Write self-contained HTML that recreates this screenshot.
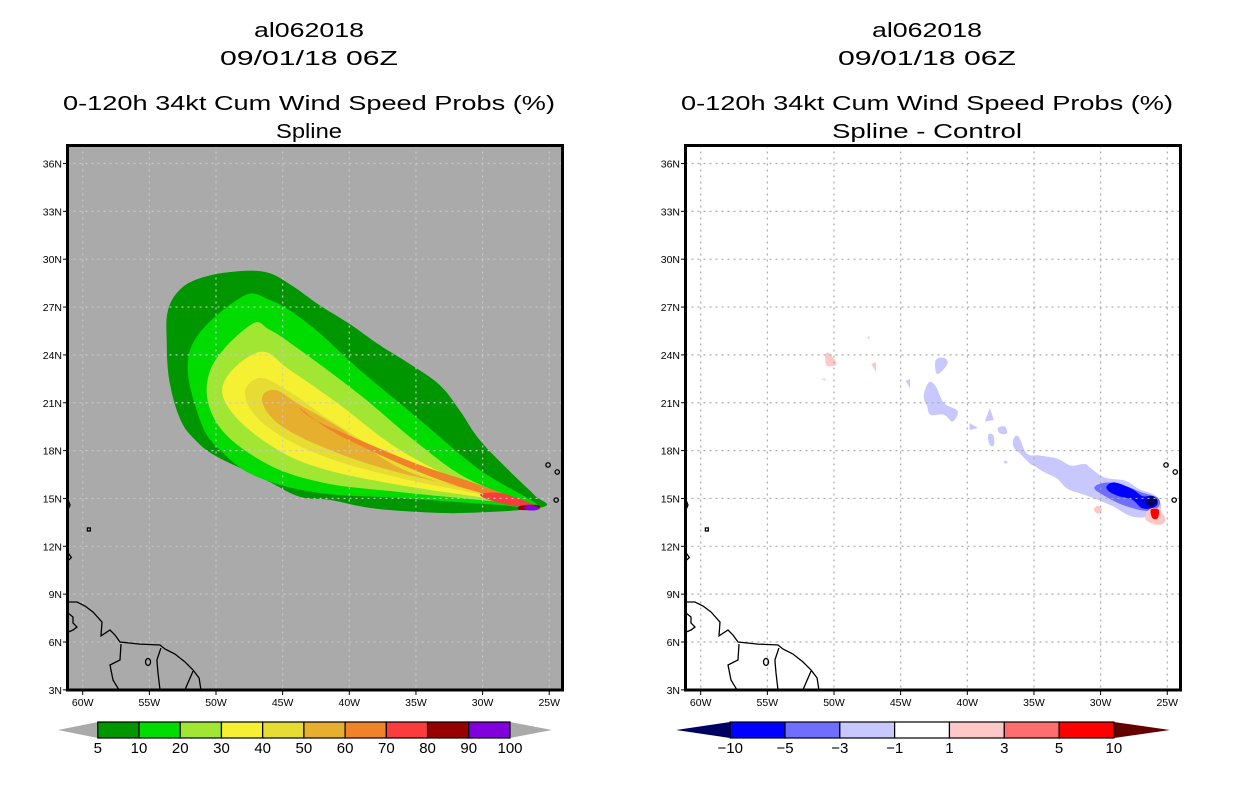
<!DOCTYPE html>
<html><head><meta charset="utf-8">
<style>
html,body{margin:0;padding:0;background:#fff;}
svg{display:block;font-family:"Liberation Sans",sans-serif;}
</style></head>
<body>
<svg id="chart" xmlns="http://www.w3.org/2000/svg" width="1236" height="800" viewBox="0 0 1236 800">
<defs>
<clipPath id="clipL"><rect x="67.5" y="145.5" width="495" height="544.5"/></clipPath>
<clipPath id="clipR"><rect x="685.5" y="145.5" width="495" height="544.5"/></clipPath>
</defs>
<g id="titles"></g>
<g id="panelL"></g>
<g id="panelR"></g>
<g id="cbars"></g>
</svg>
<script>
// ---- Axis data ----
const lonTicks = [-60,-55,-50,-45,-40,-35,-30,-25];
const lonLabels = ["60W","55W","50W","45W","40W","35W","30W","25W"];
const latTicks = [3,6,9,12,15,18,21,24,27,30,33,36];
const latLabels = ["3N","6N","9N","12N","15N","18N","21N","24N","27N","30N","33N","36N"];

// ---- Left panel: cumulative probability contours (lon/lat) ----
const leftLevels = [5,10,20,30,40,50,60,70,80,90,100];
const leftColors = ["#009600","#00dc00","#a0e632","#f5f032","#e6dc32","#e6af2d","#f08228","#fa3c3c","#960000","#8200dc"];
const c5Lon = [-25.5,-30.9,-34.7,-38.4,-41.4,-43.7,-45.9,-47.4,-50.1,-51.6,-52.7,-53.5,-53.7,-53.6,-52.7,-51.2,-48.9,-46.3,-44.4,-42.2,-39.9,-37.7,-35.4,-33.2,-31.7,-30.2,-27.9,-26.1];
const c5Lat = [14.46,14.1,14.15,14.4,14.9,15.1,16.0,16.6,17.7,18.7,20.0,22.4,24.9,26.8,28.1,28.8,29.2,29.2,28.4,27.1,25.9,24.6,23.4,22.1,20.5,18.65,16.65,15.2];
const c10Lon = [-48.2,-51.95,-51.2,-49.32,-46.7,-42.2,-36.2,-28.7,-25.69,-30.2,-34.7,-39.2,-42.95,-45.95];
const c10Lat = [27.57,24.31,19.92,17.73,16.28,15.34,15.03,14.59,14.46,16.79,19.92,23.05,25.87,27.44];
const c20Lon = [-47.43,-50.43,-50.08,-46.7,-42.2,-36.2,-28.7,-25.84,-30.94,-34.7,-39.2,-43.7,-45.95];
const c20Lat = [25.87,23.05,19.92,17.41,16.03,15.4,14.78,14.46,16.16,18.35,21.49,24.31,25.56];
const c30Lon = [-46.7,-49.32,-48.95,-45.95,-42.2,-36.2,-28.7,-25.99,-30.94,-36.2,-40.7,-44.45];
const c30Lat = [24.18,22.43,20.55,18.35,16.91,15.84,14.9,14.46,15.84,18.04,20.86,23.05];
const c40Lon = [-46.7,-47.82,-46.32,-42.2,-36.2,-28.7,-25.91,-30.94,-36.2,-41.44,-44.45];
const c40Lat = [22.55,21.49,19.61,17.73,16.28,15.03,14.46,15.66,17.29,19.92,21.67];
const c50Lon = [-45.57,-46.55,-45.2,-41.44,-36.2,-28.7,-26.06,-30.94,-36.2,-40.7,-43.7];
const c50Lat = [21.8,21.17,19.61,18.04,16.6,15.22,14.46,15.53,16.91,19.42,20.86];
const c60Lon = [-43.7,-42.58,-39.2,-34.7,-30.2,-26.44,-28.7,-33.2,-37.7,-41.44];
const c60Lat = [20.67,19.92,18.66,17.1,15.84,14.59,15.03,16.16,17.73,19.29];
const c70Lon = [-30.2,-28.7,-26.44,-26.06,-28.7];
const c70Lat = [15.22,15.34,14.71,14.4,14.71];
const c80Lon = [-27.18,-25.9,-25.84,-27.18];
const c80Lat = [14.53,14.59,14.34,14.28];
const c90Lon = [-26.74,-25.97,-25.9,-26.74];
const c90Lat = [14.59,14.53,14.28,14.28];

// ---- Right panel: difference contours (lon/lat) ----
const rightLevels = [-10,-5,-3,-1,1,3,5,10];
const rightColors = ["#000064","#0000ff","#6e6eff","#c8c8ff","#ffffff","#ffc8c8","#ff6e6e","#ff0000","#640000"];
const dStreakLon = [-36.53,-36.15,-35.52,-34.62,-33.23,-32.22,-31.19,-30.68,-29.67,-28.14,-27.12,-25.84,-25.47,-26.11,-27.64,-29.14,-30.94,-32.45,-33.23,-34.25,-35.0,-35.26,-36.05,-36.53];
const dStreakLat = [18.76,18.87,17.81,17.7,17.49,17.06,17.16,16.85,16.31,16.11,15.59,15.15,14.4,13.91,13.87,14.53,15.15,15.59,16.22,16.66,17.06,17.16,17.81,18.23];
const dP1Lon = [-42.38,-41.75,-41.49,-42.25]; const dP1Lat = [23.65,23.82,23.43,22.8];
const dP2Lon = [-43.27,-42.89,-42.38,-41.75,-40.73,-41.11,-41.75,-42.76,-43.02];
const dP2Lat = [21.42,22.27,22.05,20.98,20.48,19.82,20.25,20.25,20.8];
const dP3Lon = [-38.69,-38.31,-38.0]; const dP3Lat = [19.82,20.67,19.92];
const dP4Lon = [-39.83,-39.2,-39.83]; const dP4Lat = [19.73,19.42,19.29];
const dP5Lon = [-38.45,-38.06,-38.0,-38.31]; const dP5Lat = [18.98,18.98,18.35,18.35];
const dP6Lon = [-37.7,-37.17,-37.04,-37.55]; const dP6Lat = [19.42,19.5,19.08,19.08];
const dP7Lon = [-44.61,-44.3,-44.3]; const dP7Lat = [22.38,22.49,21.92];
const dP8Lon = [-37.29,-36.91,-37.17]; const dP8Lat = [17.38,17.29,17.16];
const dMedLon = [-30.47,-29.53,-28.14,-26.86,-25.72,-25.62,-26.37,-28.14,-29.67];
const dMedLat = [15.68,16.0,15.78,15.36,15.04,14.53,14.21,14.53,15.15];
const dBlueLon = [-29.53,-28.92,-27.64,-26.86,-26.11,-25.72,-26.11,-26.9,-27.64,-28.65,-29.41];
const dBlueLat = [15.78,16.0,15.59,15.15,15.15,14.71,14.4,14.4,14.93,15.15,15.47];
const dNavyLon = [-26.61,-26.11,-25.72,-26.11,-26.48];
const dNavyLat = [14.93,15.15,14.84,14.53,14.55];
const dPinkLon = [-26.37,-25.62,-25.14,-25.62,-26.61];
const dPinkLat = [14.3,14.34,13.66,13.34,13.66];
const dRedLon = [-26.23,-25.65,-25.72,-26.11]; const dRedLat = [14.3,14.3,13.77,13.77];
const dPk1Lon = [-50.65,-50.39,-49.8,-50.53]; const dPk1Lat = [23.97,24.12,23.43,23.33];
const dPk2Lon = [-47.22,-46.85,-46.85]; const dPk2Lat = [23.43,23.55,22.93];
const dPk3Lon = [-47.5,-47.3,-47.4]; const dPk3Lat = [25.2,25.1,24.95];
const dPk4Lon = [-30.5,-30.2,-29.9,-30.2]; const dPk4Lat = [14.3,14.55,14.3,14.05];
const dPk5Lon = [-51.0,-50.6,-50.7]; const dPk5Lat = [22.5,22.5,22.38];

// ---- Coastlines (lon/lat) ----
const coastLon = [-61.1,-60.43,-59.83,-59.23,-58.55,-58.63,-57.95,-57.58,-57.2,-55.7,-54.2,-53.83,-53.08,-52.33,-51.72,-51.27,-51.13];
const coastLat = [8.51,8.51,8.26,7.88,7.25,6.38,6.75,6.44,6.0,5.87,5.81,5.56,5.25,4.75,4.24,3.74,3.0];
const b1Lon = [-57.13,-57.2,-57.95,-57.73,-57.28]; const b1Lat = [5.87,4.87,4.56,3.62,3.0];
const b2Lon = [-54.13,-54.43,-54.35,-54.2]; const b2Lat = [5.62,4.87,4.06,3.0];
const b3Lon = [-51.72,-52.33]; const b3Lat = [4.18,3.0];
const venLon = [-61.1,-60.73,-60.73,-60.43,-60.73,-61.1]; const venLat = [7.82,7.57,7.19,6.94,6.75,6.62];
const islLon = [-61.1,-60.95,-61.1]; const islLat = [14.9,14.59,14.3];
const isl2Lon = [-61.1,-60.85,-61.1]; const isl2Lat = [11.6,11.3,11.1];
const cvLon = [-25.09,-24.4,-24.48]; const cvLat = [17.1,16.66,14.9];

const NS = "http://www.w3.org/2000/svg";
function mk(tag, attrs, parent){ const e=document.createElementNS(NS,tag); for(const k in attrs) e.setAttribute(k,attrs[k]); parent.appendChild(e); return e; }
function xs(lon, ox){ return 82.7 + ox + (lon+60)*13.33; }
function ys(lat){ return 163.5 + (36-lat)*15.95; }
function pts(lons,lats,ox){ return lons.map((l,i)=>xs(l,ox).toFixed(1)+","+ys(lats[i]).toFixed(1)).join(" "); }
// closed Catmull-Rom smoothed path
function smoothPath(lons,lats,ox){
  const P = lons.map((l,i)=>[xs(l,ox),ys(lats[i])]);
  const n = P.length;
  if(n<4) return 'M'+P.map(p=>p[0].toFixed(1)+','+p[1].toFixed(1)).join('L')+'Z';
  let d = 'M'+P[0][0].toFixed(1)+','+P[0][1].toFixed(1);
  const t = 0.18;
  for(let i=0;i<n;i++){
    const p0=P[(i-1+n)%n],p1=P[i],p2=P[(i+1)%n],p3=P[(i+2)%n];
    const c1=[p1[0]+(p2[0]-p0[0])*t,p1[1]+(p2[1]-p0[1])*t];
    const c2=[p2[0]-(p3[0]-p1[0])*t,p2[1]-(p3[1]-p1[1])*t];
    d += 'C'+c1[0].toFixed(1)+','+c1[1].toFixed(1)+' '+c2[0].toFixed(1)+','+c2[1].toFixed(1)+' '+p2[0].toFixed(1)+','+p2[1].toFixed(1);
  }
  return d+'Z';
}

// Titles
const T = document.getElementById('titles');
function title(txt, cx, y, w, name){
  const t = mk('text',{x:cx,y:y,'text-anchor':'middle','font-size':'20',fill:'#000',textLength:w,lengthAdjust:'spacingAndGlyphs'},T);
  t.textContent = txt;
  
  
}
title("al062018",309,37,110,"storm-id-title-left");
title("09/01/18 06Z",309,65,178,"date-title-left");
title("0-120h 34kt Cum Wind Speed Probs (%)",309,110,492,"chart-title-left");
title("Spline",309,138,66,"subtitle-left");
title("al062018",927,37,110,"storm-id-title-right");
title("09/01/18 06Z",927,65,178,"date-title-right");
title("0-120h 34kt Cum Wind Speed Probs (%)",927,110,492,"chart-title-right");
title("Spline - Control",927,138,190,"subtitle-right");

function panel(g, ox, bg, clipId, fills, gridColor){
  const pl = mk('g',{'clip-path':'url(#'+clipId+')'},g);
  const bgr = mk('rect',{x:67.5+ox,y:145.5,width:495,height:544.5,fill:bg},pl);
  
  
  fills.forEach(f=>{
    const p = mk('path',{d:smoothPath(f.lon,f.lat,ox),fill:f.color},pl);
    
    
  });
  const gg = mk('g',{stroke:gridColor,'stroke-width':'1.2','stroke-dasharray':'2,4'},pl);
  
  
  lonTicks.forEach(l=>mk('line',{x1:xs(l,ox),x2:xs(l,ox),y1:145.5,y2:690},gg));
  latTicks.forEach(l=>mk('line',{x1:67.5+ox,x2:562.5+ox,y1:ys(l),y2:ys(l)},gg));
  const cg = mk('g',{stroke:'#000','stroke-width':'1.3',fill:'none'},pl);
  
  
  [[coastLon,coastLat],[b1Lon,b1Lat],[b2Lon,b2Lat],[b3Lon,b3Lat],[venLon,venLat],[islLon,islLat],[isl2Lon,isl2Lat]].forEach(a=>mk('polyline',{points:pts(a[0],a[1],ox)},cg));
  mk('ellipse',{cx:xs(-55.1,ox),cy:ys(4.75),rx:2.5,ry:3.5},cg);
  mk('rect',{x:xs(-59.65,ox),y:ys(13.15),width:3,height:3},cg);
  cvLon.forEach((l,i)=>mk('circle',{cx:xs(l,ox),cy:ys(cvLat[i]),r:2.2},cg));
  const fr = mk('rect',{x:67.5+ox,y:145.5,width:495,height:544.5,fill:'none',stroke:'#000','stroke-width':'3'},g);
  
  
  const tg = mk('g',{stroke:'#000','stroke-width':'1'},g);
  lonTicks.forEach((l,i)=>{
    mk('line',{x1:xs(l,ox),x2:xs(l,ox),y1:690,y2:695},tg);
    const t = mk('text',{x:xs(l,ox),y:706,'text-anchor':'middle','font-size':'10.5',fill:'#000',stroke:'none'},g);
    t.textContent = lonLabels[i];
    
    
  });
  latTicks.forEach((l,i)=>{
    mk('line',{x1:63+ox,x2:67+ox,y1:ys(l),y2:ys(l)},tg);
    const t = mk('text',{x:62+ox,y:ys(l)+4,'text-anchor':'end','font-size':'10.5',fill:'#000',stroke:'none'},g);
    t.textContent = latLabels[i];
    
    
  });
}

const leftFills = [
 {lon:c5Lon,lat:c5Lat,color:leftColors[0],name:'contour-5'},
 {lon:c10Lon,lat:c10Lat,color:leftColors[1],name:'contour-10'},
 {lon:c20Lon,lat:c20Lat,color:leftColors[2],name:'contour-20'},
 {lon:c30Lon,lat:c30Lat,color:leftColors[3],name:'contour-30'},
 {lon:c40Lon,lat:c40Lat,color:leftColors[4],name:'contour-40'},
 {lon:c50Lon,lat:c50Lat,color:leftColors[5],name:'contour-50'},
 {lon:c60Lon,lat:c60Lat,color:leftColors[6],name:'contour-60'},
 {lon:c70Lon,lat:c70Lat,color:leftColors[7],name:'contour-70'},
 {lon:c80Lon,lat:c80Lat,color:leftColors[8],name:'contour-80'},
 {lon:c90Lon,lat:c90Lat,color:leftColors[9],name:'contour-90'}
];
const rightFills = [
 {lon:dStreakLon,lat:dStreakLat,color:rightColors[3],name:'diff-minus1-streak'},
 {lon:dP1Lon,lat:dP1Lat,color:rightColors[3],name:'diff-minus1-patch'},
 {lon:dP2Lon,lat:dP2Lat,color:rightColors[3],name:'diff-minus1-patch'},
 {lon:dP3Lon,lat:dP3Lat,color:rightColors[3],name:'diff-minus1-patch'},
 {lon:dP4Lon,lat:dP4Lat,color:rightColors[3],name:'diff-minus1-patch'},
 {lon:dP5Lon,lat:dP5Lat,color:rightColors[3],name:'diff-minus1-patch'},
 {lon:dP6Lon,lat:dP6Lat,color:rightColors[3],name:'diff-minus1-patch'},
 {lon:dP7Lon,lat:dP7Lat,color:rightColors[3],name:'diff-minus1-patch'},
 {lon:dP8Lon,lat:dP8Lat,color:rightColors[3],name:'diff-minus1-patch'},
 {lon:dMedLon,lat:dMedLat,color:rightColors[2],name:'diff-minus3'},
 {lon:dBlueLon,lat:dBlueLat,color:rightColors[1],name:'diff-minus5'},
 {lon:dNavyLon,lat:dNavyLat,color:rightColors[0],name:'diff-minus10'},
 {lon:dPinkLon,lat:dPinkLat,color:rightColors[5],name:'diff-plus1'},
 {lon:dRedLon,lat:dRedLat,color:rightColors[7],name:'diff-plus5'},
 {lon:dPk1Lon,lat:dPk1Lat,color:rightColors[5],name:'diff-plus1-patch'},
 {lon:dPk2Lon,lat:dPk2Lat,color:rightColors[5],name:'diff-plus1-patch'},
 {lon:dPk3Lon,lat:dPk3Lat,color:rightColors[5],name:'diff-plus1-patch'},
 {lon:dPk4Lon,lat:dPk4Lat,color:rightColors[5],name:'diff-plus1-patch'},
 {lon:dPk5Lon,lat:dPk5Lat,color:rightColors[5],name:'diff-plus1-patch'}
];
panel(document.getElementById('panelL'),0,'#aaaaaa','clipL',leftFills,'#c8c8c8');
panel(document.getElementById('panelR'),618,'#ffffff','clipR',rightFills,'#aaaaaa');

// Colorbars
const CB = document.getElementById('cbars');
function colorbar(x0,x1,tipL,tipR,colors,labels,lcol,rcol,name){
  const g = mk('g',{},CB);
  
  
  const y0=722,y1=738,n=colors.length,w=(x1-x0)/n;
  mk('polygon',{points:`${tipL},730 ${x0},${y0} ${x0},${y1}`,fill:lcol},g);
  mk('polygon',{points:`${tipR},730 ${x1},${y0} ${x1},${y1}`,fill:rcol},g);
  colors.forEach((c,i)=>{
    const r = mk('rect',{x:x0+i*w,y:y0,width:w,height:y1-y0,fill:c,stroke:'#000','stroke-width':'1.2'},g);
    
    
  });
  labels.forEach((l,i)=>{
    const t = mk('text',{x:x0+i*w,y:753,'text-anchor':'middle','font-size':'15',fill:'#000'},g);
    t.textContent = l;
    
    
  });
}
colorbar(97.8,510,58,552,leftColors,leftLevels.map(String),'#aaaaaa','#aaaaaa','colorbar-left');
colorbar(730.2,1113.9,676,1170,rightColors.slice(1,8),rightLevels.map(v=>v<0?'\u2212'+Math.abs(v):String(v)),rightColors[0],rightColors[8],'colorbar-right');
</script>
</body></html>
